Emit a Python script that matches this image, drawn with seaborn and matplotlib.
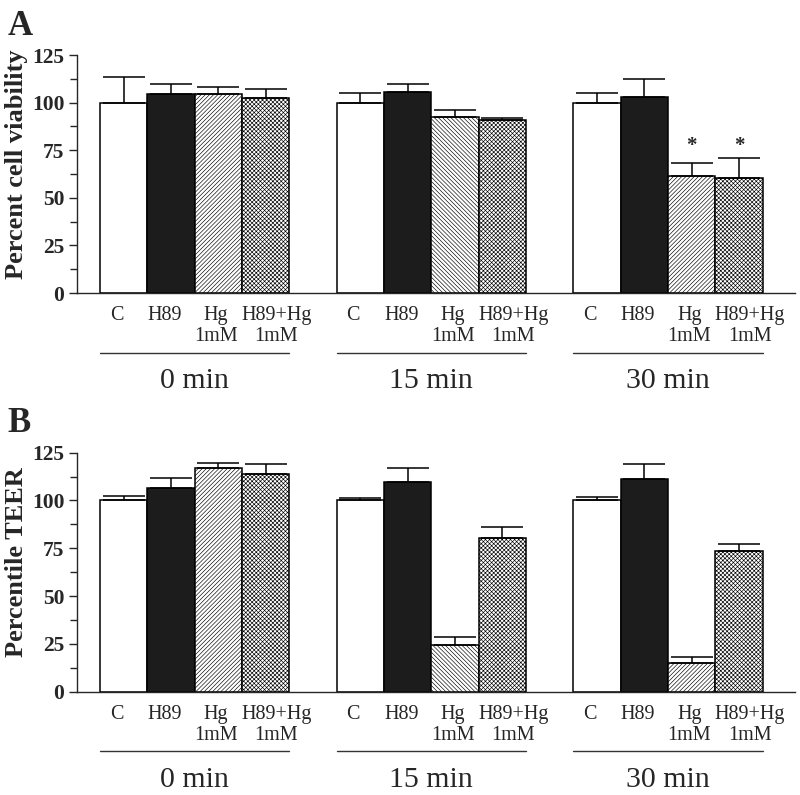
import numpy as np
import pandas as pd
import matplotlib
matplotlib.use("Agg")
import matplotlib.pyplot as plt
import matplotlib.transforms as mtransforms
from matplotlib.ticker import MultipleLocator
import seaborn as sns

conditions = ['C', 'H89', 'Hg\n1mM', 'H89+Hg\n1mM']
times = ['0 min', '15 min', '30 min']

viab_mean = [[100, 104.5, 104.3, 102.2],
             [100, 105.7, 92.6, 90.9],
             [100, 103.1, 61.4, 60.6]]
viab_err = [[13.6, 5.1, 4.1, 5.1],
            [4.9, 4.1, 3.5, 1.2],
            [4.9, 9.3, 7.0, 10.1]]

teer_mean = [[100, 106.7, 116.8, 114.0],
             [100, 109.8, 24.4, 80.4],
             [100, 111.4, 15.2, 73.4]]
teer_err = [[2.1, 5.1, 2.7, 4.9],
            [1.2, 7.0, 4.1, 5.9],
            [1.6, 7.5, 2.9, 3.7]]

# significance marks (panel A, 30 min)
stars_A = [(2, 2), (2, 3)]

sns.set_style("ticks")
plt.rcParams['font.family'] = ['Liberation Serif', 'DejaVu Serif']
plt.rcParams['hatch.linewidth'] = 0.45

# slot order with empty gap slots between time groups
order = []
for t_i, t in enumerate(times):
    for c in conditions:
        order.append(f"{t}|{c}")
    if t_i < len(times) - 1:
        order.append(f"gap{t_i}")

face = {'C': 'white', 'H89': '#1c1c1c', 'Hg\n1mM': 'white', 'H89+Hg\n1mM': 'white'}
# small horizontal nudges of the category labels (in bar widths)
label_shift = {'C': -0.15, 'H89': -0.13, 'Hg\n1mM': -0.05, 'H89+Hg\n1mM': 0.23}


def make_df(means, errs):
    rows = []
    for t_i, t in enumerate(times):
        for c_i, c in enumerate(conditions):
            rows.append({'slot': f"{t}|{c}", 'cond': c, 'time': t,
                         'value': means[t_i][c_i], 'err': errs[t_i][c_i]})
    return pd.DataFrame(rows)


def draw_panel(ax, means, errs, ylabel, letter, stars=()):
    df = make_df(means, errs)
    sns.barplot(data=df, x='slot', y='value', hue='cond', order=order,
                palette=face, dodge=False, width=1.0, errorbar=None,
                edgecolor='black', linewidth=1.1, legend=False, ax=ax)
    pos = np.array([order.index(s) for s in df['slot']])

    bars = sorted(ax.patches, key=lambda p: p.get_x())
    for p, (_, r) in zip(bars, df.iterrows()):
        if r['cond'] == 'Hg\n1mM':
            p.set_hatch('\\' * 8 if r['time'] == '15 min' else '/' * 8)
        elif r['cond'] == 'H89+Hg\n1mM':
            p.set_hatch('x' * 8)

    ax.errorbar(pos, df['value'], yerr=[np.zeros(len(df)), df['err']],
                fmt='none', ecolor='black', elinewidth=1.1, capsize=15,
                capthick=1.1, zorder=1)

    for t_i, c_i in stars:
        k = order.index(f"{times[t_i]}|{conditions[c_i]}")
        ax.text(k, 77, '*', ha='center', va='center', fontsize=15,
                fontweight='bold')

    ax.set_xlim(-0.99, 14.19)
    ax.set_ylim(0, 125)
    ax.set_xticks([])
    ax.set_yticks(np.arange(0, 126, 25))
    ax.yaxis.set_minor_locator(MultipleLocator(12.5))
    ax.tick_params(axis='y', which='major', length=6, width=1, pad=3,
                   labelsize=15.5)
    ax.tick_params(axis='y', which='minor', length=5, width=1)
    for lab in ax.get_yticklabels():
        lab.set_fontweight('bold')
    ax.set_xlabel('')
    ax.set_ylabel(ylabel, fontsize=19, fontweight='bold')
    ax.yaxis.set_label_coords(-0.068, 0.54)
    sns.despine(ax=ax)
    for s in ['left', 'bottom']:
        ax.spines[s].set_linewidth(1.0)

    trans = mtransforms.blended_transform_factory(ax.transData, ax.transAxes)
    for k, c in zip(pos, df['cond']):
        ax.text(k + label_shift[c], -0.055, c, transform=trans, ha='center',
                va='top', multialignment='center', fontsize=14.5,
                linespacing=1.15)
    for t_i, t in enumerate(times):
        start = order.index(f"{t}|{conditions[0]}")
        ax.plot([start - 0.5, start + 3.5], [-0.25, -0.25], color='#333333',
                lw=1.0, transform=trans, clip_on=False)
        ax.text(start + 1.5, -0.37, t, transform=trans, ha='center',
                va='center', fontsize=21.5)

    ax.text(-0.096, 1.12, letter, transform=ax.transAxes, fontsize=25,
            fontweight='bold', ha='left', va='center')


fig = plt.figure(figsize=(8, 7.95), dpi=100)
axA = fig.add_axes([0.096, 0.6314, 0.898, 0.2994])
axB = fig.add_axes([0.096, 0.130, 0.898, 0.3006])

draw_panel(axA, viab_mean, viab_err, 'Percent cell viability', 'A', stars_A)
draw_panel(axB, teer_mean, teer_err, 'Percentile TEER', 'B')

fig.savefig("out.png", dpi=100)
